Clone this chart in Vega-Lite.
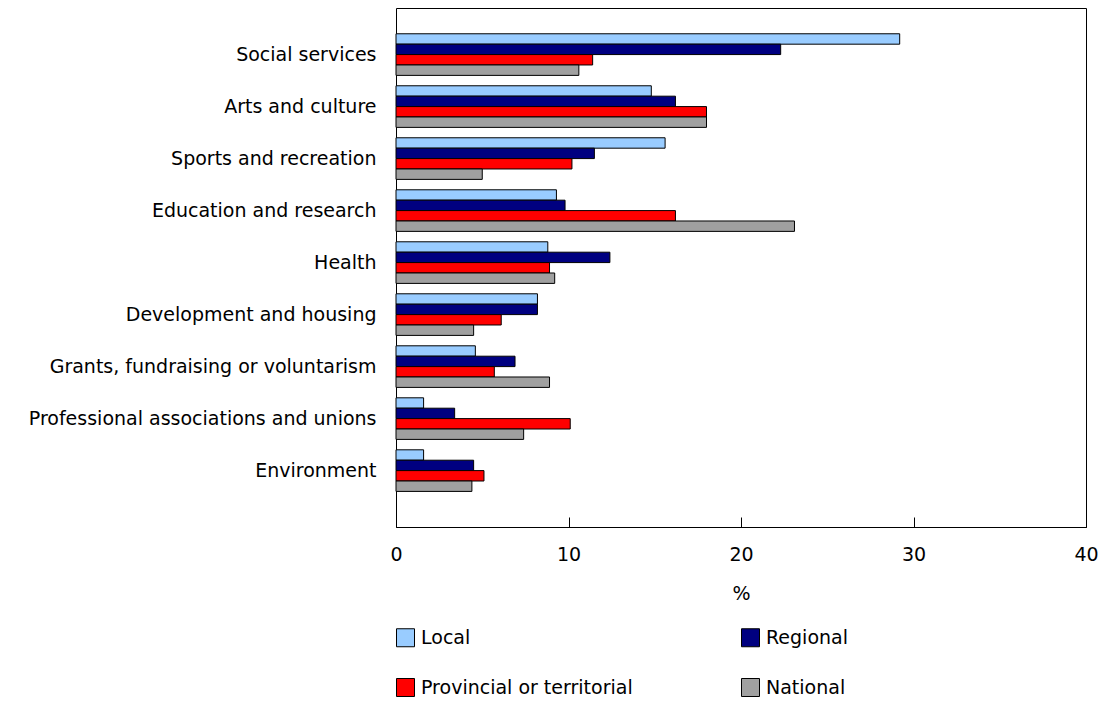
{
  "$schema": "https://vega.github.io/schema/vega-lite/v6.json",
  "width": 690,
  "height": 519,
  "autosize": {"type": "none"},
  "padding": {"left": 396, "top": 8, "right": 16, "bottom": 175},
  "config": {
    "font": "DejaVu Sans",
    "view": {"stroke": "black", "strokeWidth": 1},
    "axis": {"labelColor": "black", "titleColor": "black", "domainColor": "black", "tickColor": "black", "labelFontSize": 19, "titleFontSize": 19, "titleFontWeight": "normal", "grid": false, "labelLimit": 0},
    "legend": {"labelFontSize": 19, "labelColor": "black", "labelLimit": 0}
  },
  "data": {
    "values": [
      {"activity": "Social services", "scope": "Local", "value": 29.2},
      {"activity": "Social services", "scope": "Regional", "value": 22.3},
      {"activity": "Social services", "scope": "Provincial or territorial", "value": 11.4},
      {"activity": "Social services", "scope": "National", "value": 10.6},
      {"activity": "Arts and culture", "scope": "Local", "value": 14.8},
      {"activity": "Arts and culture", "scope": "Regional", "value": 16.2},
      {"activity": "Arts and culture", "scope": "Provincial or territorial", "value": 18.0},
      {"activity": "Arts and culture", "scope": "National", "value": 18.0},
      {"activity": "Sports and recreation", "scope": "Local", "value": 15.6},
      {"activity": "Sports and recreation", "scope": "Regional", "value": 11.5},
      {"activity": "Sports and recreation", "scope": "Provincial or territorial", "value": 10.2},
      {"activity": "Sports and recreation", "scope": "National", "value": 5.0},
      {"activity": "Education and research", "scope": "Local", "value": 9.3},
      {"activity": "Education and research", "scope": "Regional", "value": 9.8},
      {"activity": "Education and research", "scope": "Provincial or territorial", "value": 16.2},
      {"activity": "Education and research", "scope": "National", "value": 23.1},
      {"activity": "Health", "scope": "Local", "value": 8.8},
      {"activity": "Health", "scope": "Regional", "value": 12.4},
      {"activity": "Health", "scope": "Provincial or territorial", "value": 8.9},
      {"activity": "Health", "scope": "National", "value": 9.2},
      {"activity": "Development and housing", "scope": "Local", "value": 8.2},
      {"activity": "Development and housing", "scope": "Regional", "value": 8.2},
      {"activity": "Development and housing", "scope": "Provincial or territorial", "value": 6.1},
      {"activity": "Development and housing", "scope": "National", "value": 4.5},
      {"activity": "Grants, fundraising or voluntarism", "scope": "Local", "value": 4.6},
      {"activity": "Grants, fundraising or voluntarism", "scope": "Regional", "value": 6.9},
      {"activity": "Grants, fundraising or voluntarism", "scope": "Provincial or territorial", "value": 5.7},
      {"activity": "Grants, fundraising or voluntarism", "scope": "National", "value": 8.9},
      {"activity": "Professional associations and unions", "scope": "Local", "value": 1.6},
      {"activity": "Professional associations and unions", "scope": "Regional", "value": 3.4},
      {"activity": "Professional associations and unions", "scope": "Provincial or territorial", "value": 10.1},
      {"activity": "Professional associations and unions", "scope": "National", "value": 7.4},
      {"activity": "Environment", "scope": "Local", "value": 1.6},
      {"activity": "Environment", "scope": "Regional", "value": 4.5},
      {"activity": "Environment", "scope": "Provincial or territorial", "value": 5.1},
      {"activity": "Environment", "scope": "National", "value": 4.4}
    ]
  },
  "mark": {"type": "bar", "stroke": "black", "strokeWidth": 1},
  "encoding": {
    "y": {
      "field": "activity", "type": "nominal", "sort": null,
      "scale": {"paddingInner": 0.2, "paddingOuter": 0.59, "align": 0.42},
      "axis": {"title": null, "ticks": false, "domain": false, "labelPadding": 20}
    },
    "yOffset": {
      "field": "scope", "type": "nominal",
      "sort": ["Local", "Regional", "Provincial or territorial", "National"],
      "scale": {"paddingInner": 0}
    },
    "x": {
      "field": "value", "type": "quantitative",
      "scale": {"domain": [0, 40], "nice": false},
      "axis": {"title": "%", "values": [0, 10, 20, 30, 40], "tickSize": -10, "labelPadding": 28, "titlePadding": 20, "domain": true, "labelFlush": false}
    },
    "color": {
      "field": "scope", "type": "nominal",
      "sort": ["Local", "Regional", "Provincial or territorial", "National"],
      "scale": {"domain": ["Local", "Regional", "Provincial or territorial", "National"], "range": ["#99CCFF", "#000080", "#FF0000", "#A0A0A0"]},
      "legend": {
        "title": null, "orient": "none", "legendX": 0, "legendY": 620, "columns": 2, "direction": "horizontal",
        "symbolType": "square", "symbolSize": 324, "symbolStrokeColor": "black", "symbolStrokeWidth": 1,
        "columnPadding": 106, "rowPadding": 27, "labelOffset": 6
      }
    }
  }
}
